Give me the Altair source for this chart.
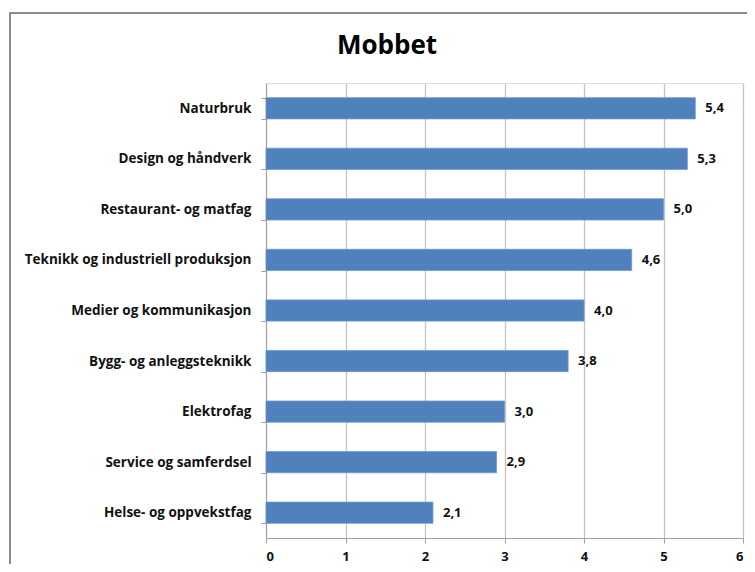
import altair as alt
import pandas as pd

categories = ["Naturbruk", "Design og håndverk", "Restaurant- og matfag",
              "Teknikk og industriell produksjon", "Medier og kommunikasjon",
              "Bygg- og anleggsteknikk", "Elektrofag", "Service og samferdsel",
              "Helse- og oppvekstfag"]
values = [5.4, 5.3, 5.0, 4.6, 4.0, 3.8, 3.0, 2.9, 2.1]
x_ticks = [0, 1, 2, 3, 4, 5, 6]

df = pd.DataFrame({"kat": categories, "v": values})

FONT = "Open Sans"
W, H = 477, 455

y_enc = alt.Y("kat:N", sort=categories, title=None,
              scale=alt.Scale(paddingInner=0.58, paddingOuter=0.29),
              axis=alt.Axis(labelFont=FONT, labelFontWeight="bold", labelFontSize=13.5,
                            labelColor="#111111", domainColor="#a0a0a0", tickColor="#a0a0a0",
                            tickSize=5, tickBand="extent", labelPadding=10, grid=False,
                            labelLimit=400))
x_enc = alt.X("v:Q", title=None, scale=alt.Scale(domain=[0, 6], nice=False),
              axis=alt.Axis(values=x_ticks, format="d", labelFont=FONT, labelFontWeight="bold",
                            labelFontSize=13, labelColor="#111111", domainColor="#a0a0a0",
                            tickColor="#a0a0a0", tickSize=5, labelPadding=7,
                            gridColor="#c4c4c4", gridWidth=1.3))

bars = alt.Chart(df).mark_bar(color="#4F81BD", stroke="#6f98cc", strokeWidth=0.8).encode(
    x=x_enc, y=y_enc)

labels = alt.Chart(df).transform_calculate(
    lab="replace(format(datum.v, '.1f'), '.', ',')"
).mark_text(align="left", baseline="middle", dx=10, font=FONT, fontWeight="bold",
            fontSize=13, color="#111111").encode(
    x=alt.X("v:Q"), y=alt.Y("kat:N", sort=categories), text="lab:N")

frame = alt.Chart(pd.DataFrame({"a": [0]})).mark_rect(
    fill=None, stroke="#8c8c8c", strokeWidth=2, clip=False).encode(
    x=alt.value(-256), x2=alt.value(520), y=alt.value(-70), y2=alt.value(520))

title_txt = alt.Chart(pd.DataFrame({"t": ["Mobbet"]})).mark_text(
    font=FONT, fontWeight="bold", fontSize=26, color="#000000", align="center",
    baseline="middle").encode(x=alt.value(121), y=alt.value(-37), text="t:N")

chart = alt.layer(frame, bars, labels, title_txt).properties(
    width=W, height=H,
    padding={"left": 258, "top": 75, "right": 4, "bottom": 26},
    autosize=alt.AutoSizeParams(type="none"),
).configure_view(stroke=None).configure(background="white")

chart.save("out.html", embed_options={"renderer": "svg", "actions": False})
